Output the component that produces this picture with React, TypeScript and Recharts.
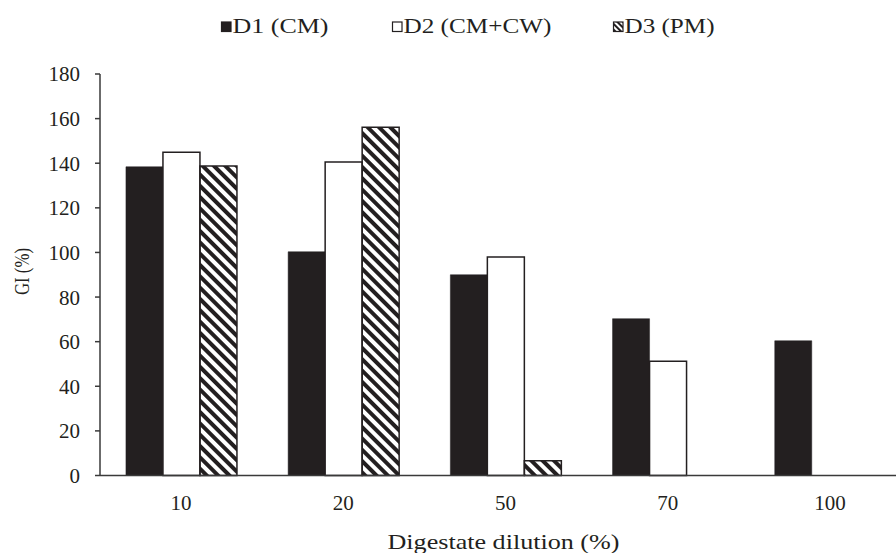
import React from 'react';
import { BarChart, Bar, XAxis, YAxis } from 'recharts';

const categories = ['10', '20', '50', '70', '100'];
const d1Values = [138.4, 100.3, 90, 70.3, 60.4];
const d2Values = [144.9, 140.5, 98, 51.2, null];
const d3Values = [138.7, 156.1, 6.6, null, null];
const yTicks = [0, 20, 40, 60, 80, 100, 120, 140, 160, 180];

const seriesNames = ['D1 (CM)', 'D2 (CM+CW)', 'D3 (PM)'];

const data = categories.map((c, i) => ({
  dilution: c,
  d1: d1Values[i],
  d2: d2Values[i],
  d3: d3Values[i],
}));

const INK = '#231f20';
const AXIS = '#3a3a3a';
const FONT = 'Liberation Serif';

// the source figure is stretched sideways, so titles get a fixed textLength
const XTitle = (props: any) => {
  const vb = props.viewBox;
  const cx = vb.x + vb.width / 2 - 2;
  return (
    <text x={cx} y={549} textAnchor="middle" style={{ fontFamily: FONT }} fontSize={21.5} fill={INK}
      textLength={232} lengthAdjust="spacingAndGlyphs">
      Digestate dilution (%)
    </text>
  );
};

const YTitle = () => (
  <text x={0} y={0} transform="translate(29,271.5) rotate(-90)" textAnchor="middle" style={{ fontFamily: FONT }}
    fontSize={22} fill={INK} textLength={47} lengthAdjust="spacingAndGlyphs">
    GI (%)
  </text>
);

const LegendOverlay = () => {
  const items = [
    { x: 221, textLen: 96, kind: 'solid' },
    { x: 392, textLen: 148, kind: 'open' },
    { x: 613, textLen: 90, kind: 'hatch' },
  ];
  return (
    <svg width={896} height={50} style={{ position: 'absolute', left: 0, top: 0 }}>
      <defs>
        <pattern id="hatchLegend" width={4} height={4} patternUnits="userSpaceOnUse" patternTransform="rotate(-45)">
          <rect x={0} y={0} width={2} height={4} fill={INK} />
        </pattern>
      </defs>
      {items.map((it, i) => (
        <g key={i}>
          <rect x={it.x + 0.5} y={22} width={9.5} height={9.5}
            fill={it.kind === 'solid' ? INK : it.kind === 'open' ? '#fff' : 'url(#hatchLegend)'}
            stroke={INK} strokeWidth={1.2} />
          <text x={it.x + 11.5} y={33} style={{ fontFamily: FONT }} fontSize={20} fill={INK}
            textLength={it.textLen} lengthAdjust="spacingAndGlyphs">
            {seriesNames[i]}
          </text>
        </g>
      ))}
    </svg>
  );
};

export default function App() {
  return (
    <div style={{ position: 'absolute', left: 0, top: 0, width: 896, height: 553, overflow: 'hidden', background: '#fff', fontFamily: FONT }}>
      <BarChart
        width={912}
        height={553}
        data={data}
        margin={{ top: 74, right: 1, left: 0, bottom: 0 }}
        barCategoryGap="16%"
        barGap={0}
        style={{ fontFamily: FONT }}
      >
        <defs>
          <pattern id="hatch" width={8} height={8} patternUnits="userSpaceOnUse" patternTransform="rotate(-45)">
            <rect x={0} y={0} width={4} height={8} fill={INK} />
          </pattern>
        </defs>
        <XAxis
          dataKey="dilution"
          height={77.5}
          tickLine={false}
          tickSize={0}
          tickMargin={20}
          axisLine={{ stroke: AXIS, strokeWidth: 1.5 }}
          tick={{ fontFamily: FONT, fontSize: 21, fill: INK }}
          label={<XTitle />}
        />
        <YAxis
          width={100}
          domain={[0, 180]}
          ticks={yTicks}
          interval={0}
          tickSize={5}
          tickMargin={15}
          axisLine={{ stroke: AXIS, strokeWidth: 1.5 }}
          tickLine={{ stroke: AXIS, strokeWidth: 1.5 }}
          tick={{ fontFamily: FONT, fontSize: 21, fill: INK }}
          label={<YTitle />}
        />
        <Bar dataKey="d1" name={seriesNames[0]} fill={INK} stroke={INK} strokeWidth={0.5} isAnimationActive={false} />
        <Bar dataKey="d2" name={seriesNames[1]} fill="#ffffff" stroke={INK} strokeWidth={1.5} isAnimationActive={false} />
        <Bar dataKey="d3" name={seriesNames[2]} fill="url(#hatch)" stroke={INK} strokeWidth={1.5} isAnimationActive={false} />
      </BarChart>
      <LegendOverlay />
    </div>
  );
}
